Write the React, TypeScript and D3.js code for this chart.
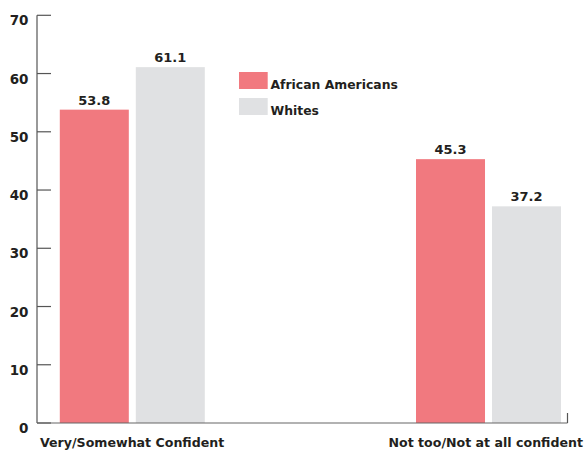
import React from "react";
import * as d3 from "d3";

const categories = ["Very/Somewhat Confident", "Not too/Not at all confident"];
const seriesNames = ["African Americans", "Whites"];
const africanAmericans = [53.8, 45.3];
const whites = [61.1, 37.2];
const yTicks = [0, 10, 20, 30, 40, 50, 60, 70];

const colors = ["#f1797f", "#e0e1e3"];
const ink = "#231f20";
const font = "'DejaVu Sans', sans-serif";

export default function App() {
  const width = 586;
  const height = 452;
  const axisX = 37;
  const y = d3.scaleLinear().domain([0, 70]).range([423, 15.3]);
  const groupX = d3.scalePoint<string>().domain(categories).range([132.3, 488.5]);
  const groupWidth = 145;
  const inner = d3
    .scaleBand<string>()
    .domain(seriesNames)
    .range([-groupWidth / 2, groupWidth / 2])
    .paddingInner(0.092);
  const values = [africanAmericans, whites];

  return (
    <svg
      width={width}
      height={height}
      style={{ position: "absolute", left: 0, top: 0, background: "#fff" }}
      fontFamily={font}
      fontWeight="bold"
    >
      {/* bars and value labels */}
      {categories.map((cat, ci) =>
        seriesNames.map((s, si) => {
          const v = values[si][ci];
          const x0 = (groupX(cat) ?? 0) + (inner(s) ?? 0);
          return (
            <g key={cat + s}>
              <rect
                x={x0}
                y={y(v)}
                width={inner.bandwidth()}
                height={y(0) - y(v)}
                fill={colors[si]}
              />
              <text
                x={x0 + inner.bandwidth() / 2}
                y={y(v) - 5}
                textAnchor="middle"
                fontSize={13}
                fill={ink}
              >
                {v.toFixed(1)}
              </text>
            </g>
          );
        })
      )}

      {/* y axis */}
      <line x1={axisX} x2={axisX} y1={y(70)} y2={y(0)} stroke="#555" strokeWidth={1.2} />
      {yTicks.map((t) => (
        <g key={t}>
          <line x1={axisX} x2={axisX + 14} y1={y(t)} y2={y(t)} stroke="#555" strokeWidth={1.2} />
          <text x={28.5} y={y(t) + 10} textAnchor="end" fontSize={13.5} fill={ink}>
            {t}
          </text>
        </g>
      ))}

      {/* x baseline */}
      <line x1={axisX} x2={567.5} y1={y(0)} y2={y(0)} stroke="#666" strokeWidth={1.2} />
      <line x1={567.5} x2={567.5} y1={y(0)} y2={y(0) - 10} stroke="#555" strokeWidth={1.2} />

      {/* category labels */}
      <text x={40} y={447} textAnchor="start" fontSize={12.6} fill={ink}>
        {categories[0]}
      </text>
      <text x={583} y={447} textAnchor="end" fontSize={12.6} fill={ink}>
        {categories[1]}
      </text>

      {/* legend */}
      {seriesNames.map((s, i) => (
        <g key={s} transform={`translate(239, ${72 + i * 26})`}>
          <rect width={28.7} height={17} fill={colors[i]} />
          <text x={31.5} y={17} fontSize={12.4} fill={ink}>
            {s}
          </text>
        </g>
      ))}
    </svg>
  );
}
